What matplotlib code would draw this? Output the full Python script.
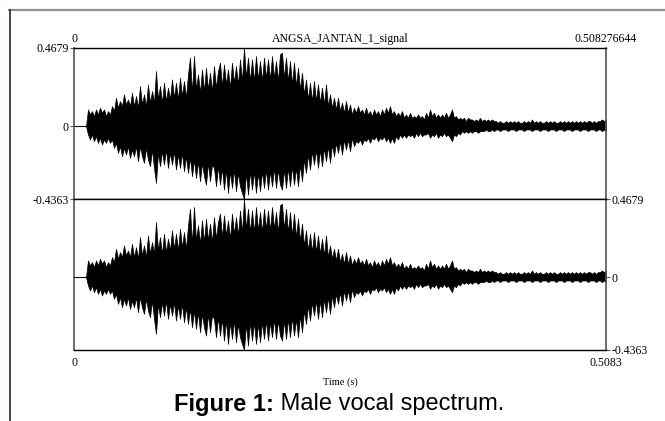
import numpy as np
import matplotlib
matplotlib.use("Agg")
import matplotlib.pyplot as plt

duration = 0.508276644
y_max = 0.4679
y_min = -0.4363
title = "ANGSA_JANTAN_1_signal"

# peak envelope of the waveform, one value per ~2 px
# (both channels look the same in the reference)
upper = [0, 0, 0, 0, 0, 0, 0, 0.10, 0.07, 0.09,
         0.06, 0.10, 0.07, 0.11, 0.08, 0.10, 0.06, 0.09, 0.07, 0.12,
         0.09, 0.17, 0.11, 0.15, 0.12, 0.19, 0.13, 0.16, 0.12, 0.20,
         0.12, 0.18, 0.11, 0.24, 0.13, 0.19, 0.12, 0.25, 0.14, 0.21,
         0.14, 0.33, 0.16, 0.24, 0.14, 0.26, 0.15, 0.23, 0.16, 0.28,
         0.17, 0.26, 0.16, 0.29, 0.18, 0.27, 0.17, 0.31, 0.41, 0.20,
         0.42, 0.22, 0.31, 0.20, 0.34, 0.21, 0.35, 0.22, 0.32, 0.21,
         0.36, 0.23, 0.33, 0.38, 0.24, 0.37, 0.25, 0.34, 0.23, 0.38,
         0.26, 0.36, 0.25, 0.40, 0.27, 0.4679, 0.29, 0.41, 0.27, 0.40,
         0.27, 0.42, 0.28, 0.39, 0.27, 0.41, 0.29, 0.40, 0.28, 0.42,
         0.29, 0.39, 0.27, 0.43, 0.44, 0.29, 0.41, 0.27, 0.39, 0.25,
         0.38, 0.24, 0.35, 0.22, 0.32, 0.19, 0.28, 0.16, 0.26, 0.15,
         0.27, 0.15, 0.25, 0.14, 0.23, 0.13, 0.25, 0.12, 0.19, 0.11,
         0.17, 0.10, 0.17, 0.09, 0.14, 0.08, 0.15, 0.08, 0.13, 0.07,
         0.11, 0.08, 0.12, 0.08, 0.10, 0.07, 0.11, 0.07, 0.09, 0.06,
         0.10, 0.07, 0.09, 0.06, 0.10, 0.07, 0.11, 0.08, 0.12, 0.07,
         0.09, 0.06, 0.08, 0.06, 0.09, 0.05, 0.07, 0.05, 0.08, 0.05,
         0.06, 0.05, 0.07, 0.05, 0.06, 0.04, 0.08, 0.05, 0.10, 0.06,
         0.08, 0.05, 0.07, 0.05, 0.07, 0.05, 0.08, 0.05, 0.07, 0.10,
         0.05, 0.06, 0.04, 0.05, 0.04, 0.05, 0.03, 0.05, 0.04, 0.04,
         0.03, 0.04, 0.03, 0.05, 0.03, 0.04, 0.03, 0.04, 0.03, 0.04,
         0.03, 0.03, 0.02, 0.03, 0.02, 0.02, 0.03, 0.02, 0.03, 0.02,
         0.03, 0.02, 0.03, 0.02, 0.02, 0.03, 0.02, 0.03, 0.02, 0.04,
         0.02, 0.03, 0.02, 0.03, 0.02, 0.02, 0.03, 0.02, 0.03, 0.02,
         0.03, 0.02, 0.02, 0.03, 0.02, 0.03, 0.02, 0.03, 0.02, 0.03,
         0.02, 0.03, 0.02, 0.03, 0.02, 0.03, 0.02, 0.03, 0.03, 0.02,
         0.03, 0.02, 0.03, 0.03, 0.04, 0.03, 0.04]
lower = [0, 0, 0, 0, 0, 0, 0, -0.05, -0.08, -0.05,
         -0.09, -0.06, -0.10, -0.07, -0.11, -0.08, -0.10, -0.07, -0.10, -0.08,
         -0.13, -0.10, -0.16, -0.12, -0.18, -0.13, -0.17, -0.12, -0.19, -0.14,
         -0.18, -0.12, -0.21, -0.12, -0.18, -0.22, -0.13, -0.20, -0.24, -0.14,
         -0.25, -0.34, -0.16, -0.24, -0.15, -0.23, -0.14, -0.25, -0.16, -0.23,
         -0.15, -0.26, -0.17, -0.25, -0.16, -0.27, -0.18, -0.28, -0.19, -0.30,
         -0.20, -0.31, -0.21, -0.33, -0.22, -0.30, -0.35, -0.22, -0.33, -0.23,
         -0.25, -0.36, -0.24, -0.35, -0.25, -0.38, -0.26, -0.40, -0.27, -0.37,
         -0.26, -0.39, -0.28, -0.36, -0.40, -0.4363, -0.28, -0.41, -0.27, -0.38,
         -0.27, -0.40, -0.28, -0.39, -0.27, -0.37, -0.26, -0.38, -0.27, -0.36,
         -0.25, -0.37, -0.26, -0.35, -0.38, -0.26, -0.37, -0.25, -0.36, -0.24,
         -0.35, -0.25, -0.36, -0.23, -0.33, -0.20, -0.28, -0.17, -0.26, -0.15,
         -0.23, -0.14, -0.25, -0.14, -0.24, -0.13, -0.21, -0.12, -0.22, -0.11,
         -0.18, -0.10, -0.16, -0.09, -0.17, -0.08, -0.14, -0.08, -0.15, -0.07,
         -0.12, -0.09, -0.10, -0.08, -0.11, -0.08, -0.09, -0.07, -0.10, -0.07,
         -0.08, -0.06, -0.09, -0.07, -0.08, -0.06, -0.09, -0.07, -0.10, -0.07,
         -0.10, -0.06, -0.08, -0.05, -0.07, -0.05, -0.07, -0.05, -0.06, -0.05,
         -0.07, -0.04, -0.06, -0.04, -0.06, -0.05, -0.05, -0.04, -0.07, -0.05,
         -0.06, -0.04, -0.07, -0.05, -0.06, -0.04, -0.06, -0.05, -0.07, -0.09,
         -0.05, -0.06, -0.04, -0.05, -0.03, -0.04, -0.03, -0.04, -0.03, -0.04,
         -0.03, -0.03, -0.04, -0.03, -0.03, -0.03, -0.02, -0.03, -0.03, -0.02,
         -0.03, -0.02, -0.02, -0.03, -0.02, -0.02, -0.02, -0.03, -0.02, -0.02,
         -0.02, -0.03, -0.02, -0.02, -0.02, -0.03, -0.02, -0.02, -0.02, -0.03,
         -0.02, -0.02, -0.02, -0.03, -0.02, -0.02, -0.02, -0.03, -0.02, -0.02,
         -0.02, -0.03, -0.02, -0.02, -0.02, -0.03, -0.02, -0.02, -0.02, -0.03,
         -0.02, -0.02, -0.02, -0.03, -0.02, -0.02, -0.02, -0.03, -0.02, -0.02,
         -0.02, -0.03, -0.02, -0.02, -0.03, -0.02, -0.03]

up = np.array(upper)
lo = np.array(lower)
assert len(up) == len(lo)
t = np.linspace(0, duration, len(up))

serif = "Liberation Serif"
sans = "Liberation Sans"
fs = 8.5

W, H = 665, 421
fig = plt.figure(figsize=(W / 100, H / 100), dpi=100)

# page border bits
fig.add_artist(plt.Line2D([9 / W, 1], [1 - 10 / H, 1 - 10 / H], color="#8a939b", lw=1.6))
fig.add_artist(plt.Line2D([9.5 / W, 9.5 / W], [0, 1 - 10 / H], color="#1c2b3a", lw=1.2))

left, right = 74, 606
top, mid, bot = 48, 199, 350
ax1 = fig.add_axes([left / W, 1 - mid / H, (right - left) / W, (mid - top) / H])
ax2 = fig.add_axes([left / W, 1 - bot / H, (right - left) / W, (bot - mid) / H])

for ax in (ax1, ax2):
    ax.fill_between(t, lo, up, color="black", lw=0.5)
    ax.plot([0, duration], [0, 0], color="black", lw=0.8)
    ax.set_xlim(0, duration)
    ax.set_ylim(y_min, y_max)
    for s in ("top", "bottom"):
        ax.spines[s].set_color("black")
        ax.spines[s].set_linewidth(1.0)
    for s in ("left", "right"):
        ax.spines[s].set_color("#555555")
        ax.spines[s].set_linewidth(1.2)
    ax.tick_params(length=3, width=0.8, color="#555555", labelsize=fs)

yt = [y_min, 0, y_max]
ylabels = ["-0.4363", "0", "0.4679"]

ax1.set_yticks(yt)
ax1.set_yticklabels(ylabels, fontfamily=serif, fontsize=fs)
ax1.tick_params(axis="y", pad=1)
ax1.xaxis.tick_top()
ax1.set_xticks([0, duration])
ax1.set_xticklabels(["0", "0.508276644"], fontfamily=serif, fontsize=fs)
ax1.tick_params(axis="x", length=0, pad=2)
ax1.annotate(title, xy=(0.5, 1), xycoords="axes fraction", xytext=(0, 2),
             textcoords="offset points", ha="center", va="bottom",
             fontfamily=serif, fontsize=fs)

ax2.yaxis.tick_right()
ax2.set_yticks(yt)
ax2.set_yticklabels(ylabels, fontfamily=serif, fontsize=fs)
ax2.tick_params(axis="y", pad=1)
ax2.set_xticks([0, duration])
ax2.set_xticklabels(["0", "0.5083"], fontfamily=serif, fontsize=fs)
ax2.tick_params(axis="x", length=0, pad=5)
ax2.set_xlabel("Time (s)", fontfamily=serif, fontsize=7.5, labelpad=6)

# caption: bold "Figure 1:" then regular text, centred together
cap_y = 1 - 404 / H
r = fig.canvas.get_renderer()
b = fig.text(0, cap_y, "Figure 1:", fontfamily=sans, fontsize=17, fontweight="bold", va="center")
n = fig.text(0, cap_y, " Male vocal spectrum.", fontfamily=sans, fontsize=17, va="center")
wb = b.get_window_extent(r).width
wn = n.get_window_extent(r).width
x0 = 339 - (wb + wn) / 2
b.set_x(x0 / W)
n.set_x((x0 + wb) / W)

fig.savefig("out.png", dpi=100)
